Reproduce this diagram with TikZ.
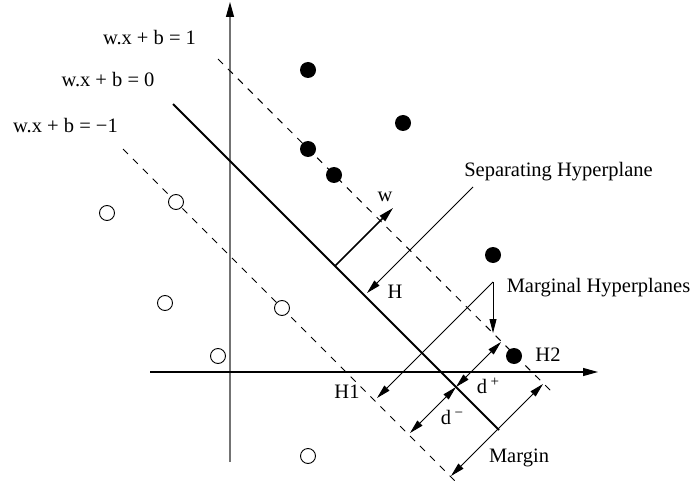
\documentclass[tikz,border=0pt]{standalone}
\usepackage{fontspec}
\setmainfont{Liberation Serif}
\usetikzlibrary{arrows.meta}
\newcommand{\mysup}[1]{\,\raisebox{6.5pt}{\fontsize{15}{15}\selectfont #1}}
\tikzset{
  lbl/.style={inner sep=0pt, anchor=base, font=\fontsize{20.5}{24}\selectfont},
  posdot/.style={circle, fill=black, inner sep=0pt, minimum size=16pt},
  negdot/.style={circle, draw=black, line width=0.9pt, fill=white, inner sep=0pt, minimum size=15pt},
  axisline/.style={line width=1.1pt, -{Triangle[length=15pt,width=8pt,color=black]}},
  plane/.style={line width=1pt, dash pattern=on 7pt off 7pt},
  sepline/.style={line width=1.8pt},
  leader/.style={line width=0.8pt, -{Triangle[length=14pt,width=7pt]}},
  dleader/.style={line width=0.8pt, {Triangle[length=14pt,width=7pt]}-{Triangle[length=14pt,width=7pt]}},
}
\begin{document}
\begin{tikzpicture}[x=1pt,y=-1pt]
\useasboundingbox (0,0) rectangle (695,489);
% axes
\coordinate (vB) at (230,462);
\coordinate (vT) at (230,2);
\coordinate (hL) at (150,372);
\coordinate (hR) at (598,372);
\draw[axisline, draw=black!55] (vB) -- (vT);
\draw[axisline] (hL) -- (hR);
% hyperplanes
\coordinate (upA) at (218,59);
\coordinate (upB) at (553,393);
\coordinate (sepA) at (173,104);
\coordinate (sepB) at (499,430);
\coordinate (loA) at (123,149);
\coordinate (loB) at (457,483);
\draw[plane] (upA) -- (upB);
\draw[plane] (loA) -- (loB);
\draw[sepline] (sepA) -- (sepB);
% points
\node[posdot] (p1) at (308,70) {};
\node[posdot] (p2) at (403,123) {};
\node[posdot] (p3) at (308,149) {};
\node[posdot] (p4) at (334,175) {};
\node[posdot] (p5) at (493,255) {};
\node[posdot] (p6) at (514,356) {};
\node[negdot] (n1) at (107,213) {};
\node[negdot] (n2) at (176,202) {};
\node[negdot] (n3) at (165,303) {};
\node[negdot] (n4) at (282,308) {};
\node[negdot] (n5) at (218,356) {};
\node[negdot] (n6) at (308,456) {};
% labels
\node[lbl] (l1) at (149.5,45) {w.x + b = 1};
\node[lbl] (l0) at (108,87) {w.x + b = 0};
\node[lbl] (lm) at (65.5,133) {w.x + b = −1};
\node[lbl] (lw) at (385,201) {w};
\node[lbl] (lsh) at (558.5,176) {Separating Hyperplane};
\node[lbl] (lmh) at (598.5,292) {Marginal Hyperplanes};
\node[lbl] (lH) at (395,298) {H};
\node[lbl] (lH1) at (347,398) {H1};
\node[lbl] (lH2) at (548,361) {H2};
\node[lbl] (ldp) at (488,393) {d\mysup{+}};
\node[lbl] (ldm) at (452,424) {d\mysup{−}};
\node[lbl] (lmg) at (519,462) {Margin};
% normal vector
\coordinate (wS) at (335,266);
\coordinate (wT) at (393,208);
\draw[line width=1.5pt, -{Triangle[length=15pt,width=7.5pt]}] (wS) -- (wT);
% leaders
\coordinate (shS) at (473,187);
\coordinate (shT) at (367,293);
\draw[leader] (shS) -- (shT);
\coordinate (mhC) at (493,282);
\coordinate (mhV) at (493,333);
\coordinate (mhD) at (377,398);
\draw[leader] (mhC) -- (mhV);
\draw[leader] (mhC) -- (mhD);
% distances
\coordinate (dC) at (456,387);
\coordinate (dP) at (501,342);
\coordinate (dM) at (410,433);
\draw[dleader] (dC) -- (dP);
\draw[dleader] (dC) -- (dM);
\coordinate (mgU) at (543,384);
\coordinate (mgL) at (451,476);
\draw[dleader] (mgU) -- (mgL);
\end{tikzpicture}
\end{document}
